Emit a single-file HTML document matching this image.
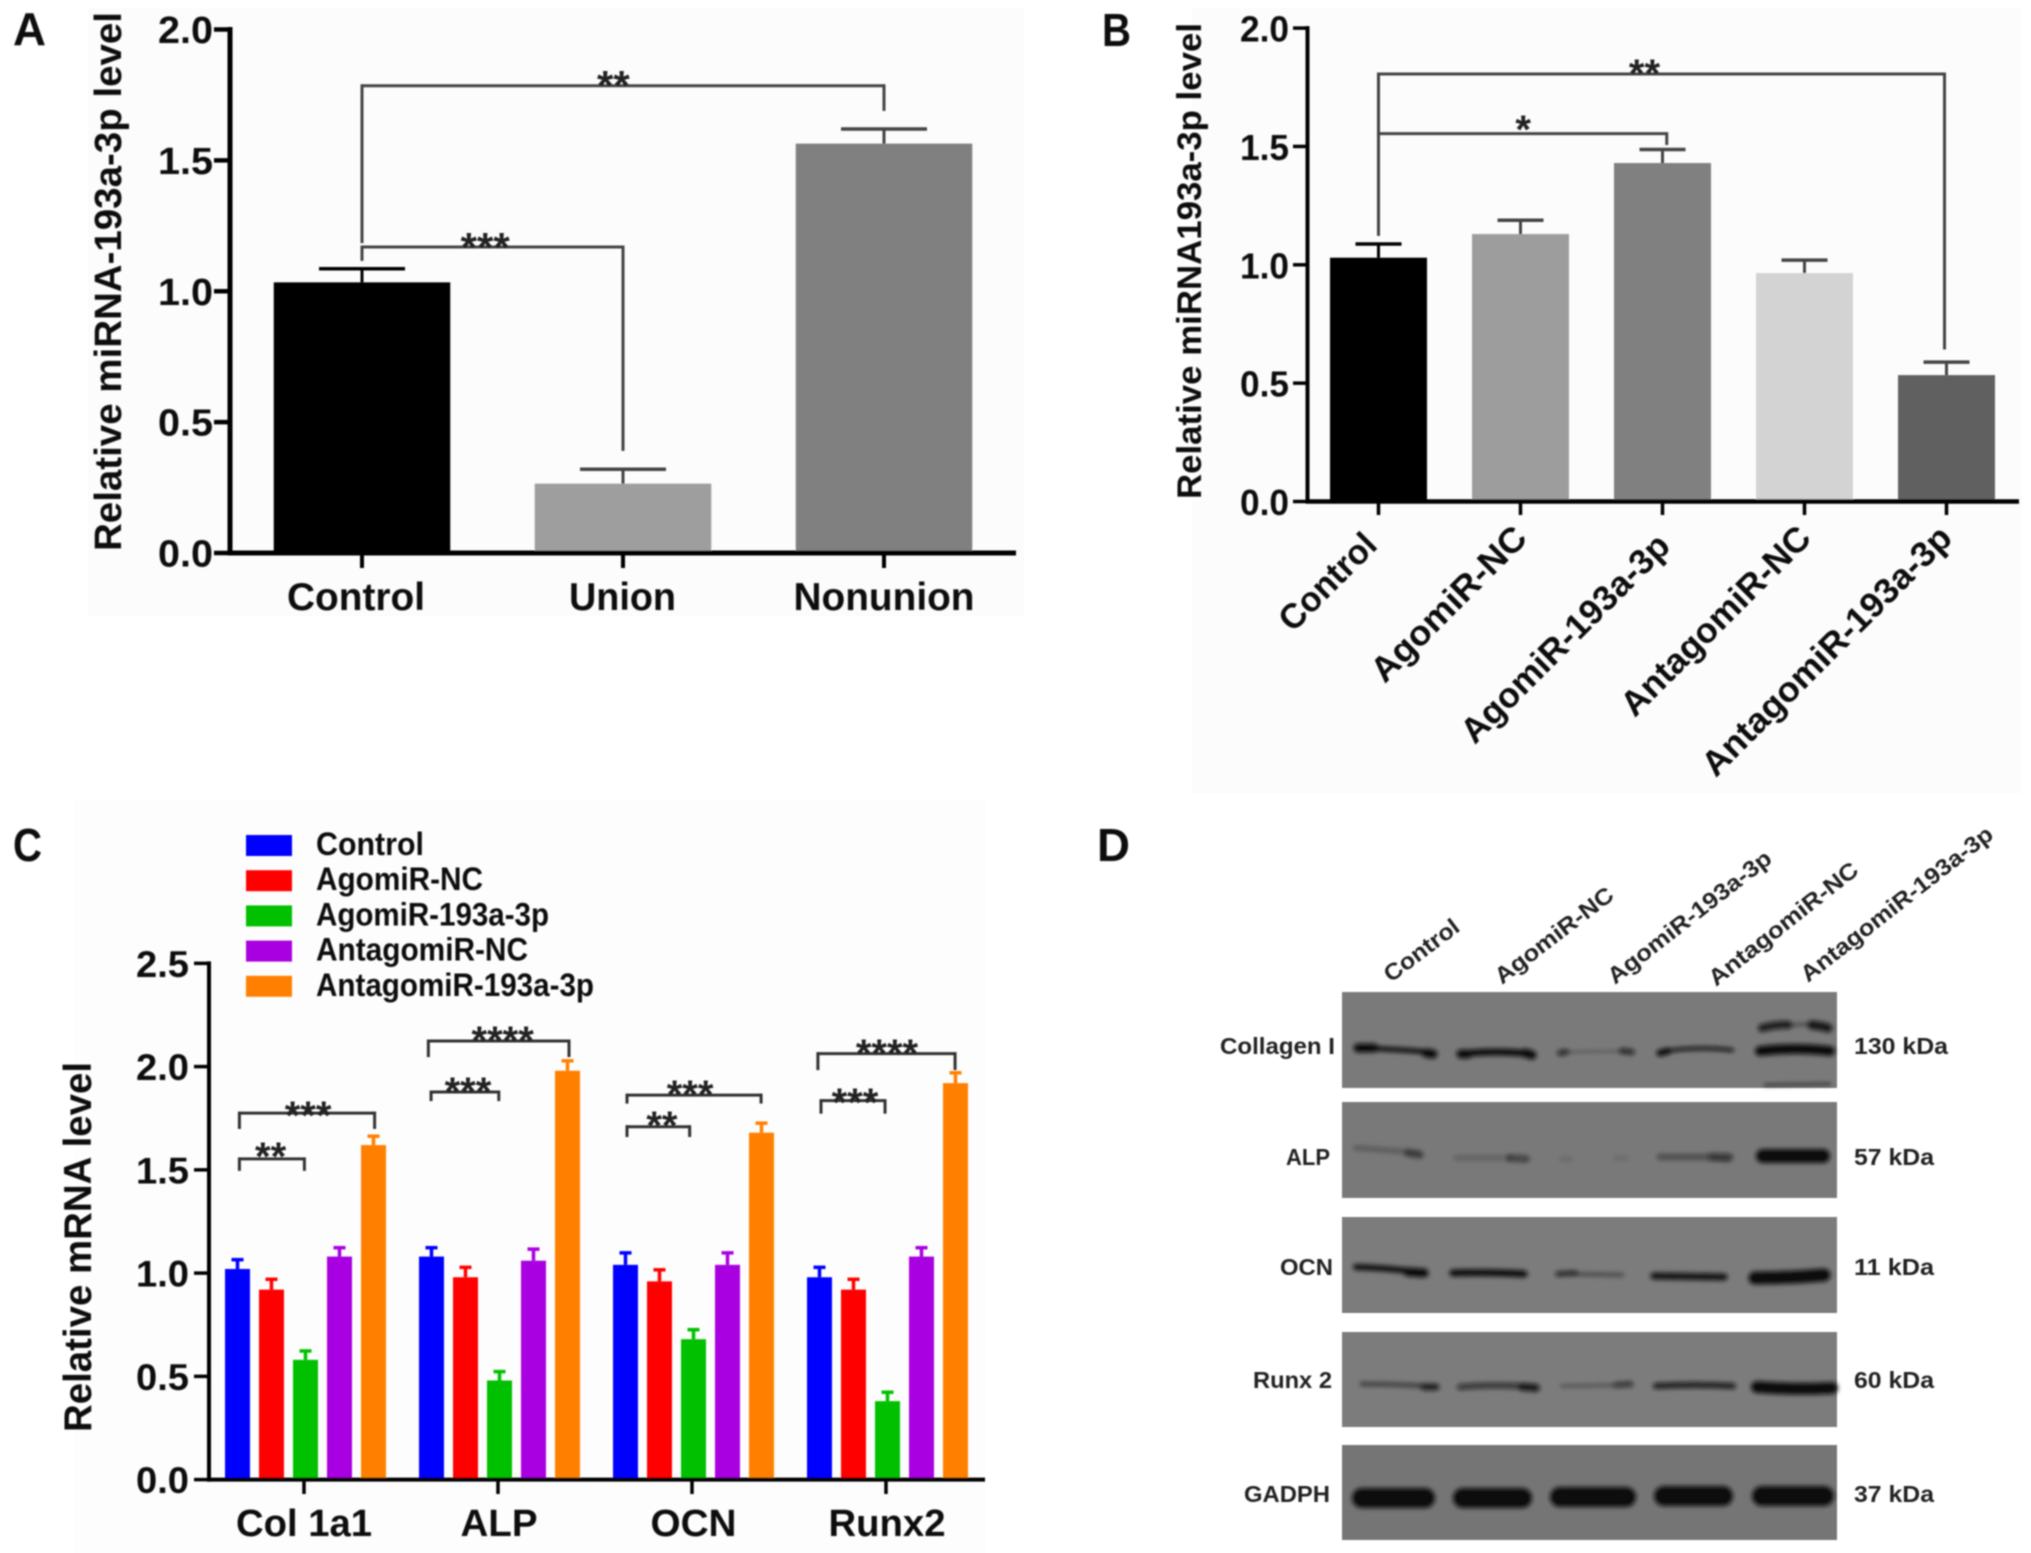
<!DOCTYPE html>
<html lang="en">
<head>
<meta charset="utf-8">
<title>miRNA-193a-3p expression figure</title>
<style>
html,body{margin:0;padding:0;background:#fff;}
body{width:2031px;height:1553px;overflow:hidden;}
svg{display:block;}
text{font-family:"Liberation Sans",sans-serif;font-weight:bold;fill:#111;}
.panel-letter{font-size:46px;fill:#0d0d0d;}
.blot-label{font-size:23px;fill:#222;}
.band{fill:none;stroke:#0c0c0c;stroke-linecap:round;stroke-linejoin:round;}
</style>
</head>
<body>
<svg id="figure" xmlns="http://www.w3.org/2000/svg" width="2031" height="1553" viewBox="0 0 2031 1553">
<defs>
<filter id="soft" x="-2%" y="-2%" width="104%" height="104%"><feGaussianBlur stdDeviation="0.7"/></filter>
<filter id="bandblur" filterUnits="userSpaceOnUse" x="1300" y="960" width="600" height="600"><feGaussianBlur stdDeviation="2"/></filter>
</defs>
<rect width="2031" height="1553" fill="#fff"/>
<rect x="88" y="8" width="936" height="608" fill="#fcfcfc"/>
<rect x="1192" y="8" width="830" height="785" fill="#fcfcfc"/>
<rect x="75" y="800" width="910" height="753" fill="#fdfdfd"/>
<g id="root" filter="url(#soft)">
  <text class="panel-letter" x="13" y="45" textLength="33" lengthAdjust="spacingAndGlyphs">A</text>
  <text class="panel-letter" x="1102" y="46" textLength="29" lengthAdjust="spacingAndGlyphs">B</text>
  <text class="panel-letter" x="13" y="861" textLength="29" lengthAdjust="spacingAndGlyphs">C</text>
  <text class="panel-letter" x="1097" y="861" textLength="33" lengthAdjust="spacingAndGlyphs">D</text>

  <text transform="translate(121,551) rotate(-90)" font-size="38" textLength="539" lengthAdjust="spacingAndGlyphs">Relative miRNA-193a-3p level</text>
  <text transform="translate(1201,499) rotate(-90)" font-size="34" textLength="476" lengthAdjust="spacingAndGlyphs">Relative miRNA193a-3p level</text>
  <text transform="translate(91,1432) rotate(-90)" font-size="39" textLength="370" lengthAdjust="spacingAndGlyphs">Relative mRNA level</text>

  <g id="panel-a"></g>
  <g id="panel-b"></g>
  <g id="panel-c"></g>

  <g id="panel-d">
    <rect x="1342" y="992" width="495" height="96" fill="#7a7a7a"/>
    <rect x="1342" y="1102" width="495" height="96" fill="#797979"/>
    <rect x="1342" y="1217" width="495" height="96" fill="#7b7b7b"/>
    <rect x="1342" y="1332" width="495" height="95" fill="#7c7c7c"/>
    <rect x="1342" y="1445" width="495" height="95" fill="#757575"/>

    <g filter="url(#bandblur)">
      <path class="band" stroke-width="5" d="M1358 1048 Q1395 1049 1430 1052"/>
      <path class="band" stroke-width="9" d="M1358 1048 L1374 1048 M1426 1053 L1433 1054"/>
      <path class="band" stroke-width="7" d="M1461 1054 Q1495 1050 1532 1054"/>
      <path class="band" stroke-width="9" d="M1461 1054 L1468 1054 M1525 1053 L1532 1055"/>
      <path class="band" stroke-width="2" opacity=".35" d="M1562 1052 L1630 1051"/>
      <path class="band" stroke-width="6" opacity=".7" d="M1560 1053 L1566 1052 M1622 1051 L1632 1052"/>
      <path class="band" stroke-width="4" opacity=".9" d="M1660 1052 Q1695 1046 1732 1050"/>
      <path class="band" stroke-width="7" d="M1660 1053 L1668 1051"/>
      <path class="band" stroke-width="10" d="M1760 1051 Q1795 1047 1830 1051"/>
      <path class="band" stroke-width="8" opacity=".85" d="M1762 1028 Q1780 1024 1788 1025"/>
      <path class="band" stroke-width="9" opacity=".9" d="M1812 1025 Q1822 1026 1828 1028"/>
      <path class="band" stroke-width="4" opacity=".35" d="M1788 1025 L1812 1024"/>
      <path class="band" stroke-width="3" opacity=".55" d="M1765 1085 L1830 1084"/>
    </g>
    <g filter="url(#bandblur)">
      <path class="band" stroke-width="6" opacity=".22" d="M1356 1148 Q1390 1150 1418 1153"/>
      <path class="band" stroke-width="8" opacity=".4" d="M1408 1153 L1420 1155"/>
      <path class="band" stroke-width="6" opacity=".17" d="M1456 1158 L1510 1158"/>
      <path class="band" stroke-width="8" opacity=".4" d="M1510 1158 L1526 1159"/>
      <path class="band" stroke-width="6" opacity=".1" d="M1562 1159 L1570 1159 M1616 1158 L1626 1158"/>
      <path class="band" stroke-width="7" opacity=".32" d="M1660 1157 L1730 1157"/>
      <path class="band" stroke-width="8" opacity=".5" d="M1712 1157 L1728 1158"/>
      <path class="band" stroke-width="14" d="M1763 1156 L1823 1156"/>
    </g>
    <g filter="url(#bandblur)">
      <path class="band" stroke-width="6" d="M1356 1267 Q1390 1268 1425 1273"/>
      <path class="band" stroke-width="9" d="M1408 1272 L1424 1273"/>
      <path class="band" stroke-width="7" d="M1453 1273 Q1490 1272 1524 1274"/>
      <path class="band" stroke-width="5" opacity=".8" d="M1558 1274 L1575 1273"/>
      <path class="band" stroke-width="4" opacity=".4" d="M1575 1274 L1622 1275"/>
      <path class="band" stroke-width="7" opacity=".95" d="M1654 1276 L1724 1277"/>
      <path class="band" stroke-width="13" d="M1755 1278 Q1790 1278 1824 1275"/>
    </g>
    <g filter="url(#bandblur)">
      <path class="band" stroke-width="5" opacity=".45" d="M1362 1384 Q1400 1384 1436 1387"/>
      <path class="band" stroke-width="7" opacity=".75" d="M1424 1387 L1436 1387"/>
      <path class="band" stroke-width="6" opacity=".65" d="M1460 1387 Q1495 1384 1535 1387"/>
      <path class="band" stroke-width="8" opacity=".75" d="M1522 1387 L1536 1388"/>
      <path class="band" stroke-width="4" opacity=".3" d="M1562 1386 L1632 1385"/>
      <path class="band" stroke-width="6" opacity=".5" d="M1616 1385 L1630 1384"/>
      <path class="band" stroke-width="6" opacity=".85" d="M1656 1386 Q1695 1384 1733 1386"/>
      <path class="band" stroke-width="12" d="M1757 1387 Q1795 1390 1832 1388"/>
    </g>
    <g filter="url(#bandblur)">
      <path class="band" stroke-width="20" d="M1362 1498 L1425 1498"/>
      <path class="band" stroke-width="20" d="M1463 1498 L1522 1498"/>
      <path class="band" stroke-width="20" d="M1560 1497 L1626 1497"/>
      <path class="band" stroke-width="20" d="M1664 1496 L1723 1496"/>
      <path class="band" stroke-width="20" d="M1762 1496 L1824 1496"/>
    </g>

    <text class="blot-label" transform="translate(1391,983) rotate(-37)" textLength="88" lengthAdjust="spacingAndGlyphs">Control</text>
    <text class="blot-label" transform="translate(1502,985) rotate(-37.5)" textLength="143" lengthAdjust="spacingAndGlyphs">AgomiR-NC</text>
    <text class="blot-label" transform="translate(1615,985) rotate(-38)" textLength="201" lengthAdjust="spacingAndGlyphs">AgomiR-193a-3p</text>
    <text class="blot-label" transform="translate(1716,987) rotate(-38.4)" textLength="184" lengthAdjust="spacingAndGlyphs">AntagomiR-NC</text>
    <text class="blot-label" transform="translate(1808,983) rotate(-38)" textLength="237" lengthAdjust="spacingAndGlyphs">AntagomiR-193a-3p</text>

    <text class="blot-label" x="1220" y="1054" textLength="115" lengthAdjust="spacingAndGlyphs">Collagen I</text>
    <text class="blot-label" x="1286" y="1165" textLength="44" lengthAdjust="spacingAndGlyphs">ALP</text>
    <text class="blot-label" x="1280" y="1275" textLength="53" lengthAdjust="spacingAndGlyphs">OCN</text>
    <text class="blot-label" x="1253" y="1388" textLength="79" lengthAdjust="spacingAndGlyphs">Runx 2</text>
    <text class="blot-label" x="1244" y="1502" textLength="86" lengthAdjust="spacingAndGlyphs">GADPH</text>

    <text class="blot-label" x="1854" y="1054" textLength="94" lengthAdjust="spacingAndGlyphs">130 kDa</text>
    <text class="blot-label" x="1854" y="1165" textLength="80" lengthAdjust="spacingAndGlyphs">57 kDa</text>
    <text class="blot-label" x="1854" y="1275" textLength="80" lengthAdjust="spacingAndGlyphs">11 kDa</text>
    <text class="blot-label" x="1854" y="1388" textLength="80" lengthAdjust="spacingAndGlyphs">60 kDa</text>
    <text class="blot-label" x="1854" y="1502" textLength="80" lengthAdjust="spacingAndGlyphs">37 kDa</text>
  </g>
</g>
</svg>
<script>
// Panel A data
var aCategories = ['Control', 'Union', 'Nonunion'];
var aValues = [1.034, 0.265, 1.564];
var aErrors = [0.052, 0.055, 0.056];
var aTicks = [0, 0.5, 1, 1.5, 2];
var aTickLabels = ['0.0', '0.5', '1.0', '1.5', '2.0'];
var aBarColors = ['#000000', '#9e9e9e', '#808080'];

// Panel B data
var bCategories = ['Control', 'AgomiR-NC', 'AgomiR-193a-3p', 'AntagomiR-NC', 'AntagomiR-193a-3p'];
var bValues = [1.03, 1.13, 1.43, 0.965, 0.534];
var bErrors = [0.058, 0.058, 0.057, 0.055, 0.055];
var bTicks = [0, 0.5, 1, 1.5, 2];
var bTickLabels = ['0.0', '0.5', '1.0', '1.5', '2.0'];
var bBarColors = ['#000000', '#9d9d9d', '#808080', '#d3d3d3', '#606060'];

// Panel C data
var cGroups = ['Col 1a1', 'ALP', 'OCN', 'Runx2'];
var cSeriesNames = ['Control', 'AgomiR-NC', 'AgomiR-193a-3p', 'AntagomiR-NC', 'AntagomiR-193a-3p'];
var cControl = [1.02, 1.08, 1.04, 0.98];
var cAgomirNc = [0.92, 0.98, 0.96, 0.92];
var cAgomir193 = [0.58, 0.48, 0.68, 0.38];
var cAntagomirNc = [1.08, 1.06, 1.04, 1.08];
var cAntagomir193 = [1.62, 1.98, 1.68, 1.92];
var cControlErr = [0.045, 0.043, 0.058, 0.048];
var cAgomirNcErr = [0.05, 0.048, 0.056, 0.05];
var cAgomir193Err = [0.043, 0.043, 0.046, 0.043];
var cAntagomirNcErr = [0.043, 0.056, 0.058, 0.043];
var cAntagomir193Err = [0.043, 0.048, 0.046, 0.05];
var cTicks = [0, 0.5, 1, 1.5, 2, 2.5];
var cTickLabels = ['0.0', '0.5', '1.0', '1.5', '2.0', '2.5'];
var cColors = ['#0000ff', '#ff0000', '#00c000', '#a800e0', '#ff8000'];

// Significance brackets: start category, end category, level, left drop, right drop, stars, star position, star level
var aBrackets = [
  [0, 2, 1.785, 1.184, 1.689, '**', 0.963, 1.819],
  [0, 1, 1.169, 1.116, 0.39, '***', 0.472, 1.2]
];
var bBrackets = [
  [0, 3.986, 1.806, 1.122, 0.642, '**', 1.873, 1.844],
  [0, 2.03, 1.554, 1.554, 1.506, '*', 1.019, 1.607]
];
var cBrackets = [
  [-0.333, 0.002, 1.553, 1.495, 1.495, '**', -0.172, 1.606],
  [-0.333, 0.364, 1.775, 1.698, 1.698, '***', 0.021, 1.804],
  [0.655, 1.004, 1.877, 1.833, 1.833, '***', 0.845, 1.921],
  [0.641, 1.366, 2.124, 2.046, 2.046, '****', 1.024, 2.167],
  [1.665, 1.988, 1.709, 1.659, 1.659, '**', 1.845, 1.756],
  [1.665, 2.356, 1.862, 1.821, 1.821, '***', 1.99, 1.906],
  [2.665, 2.995, 1.835, 1.772, 1.772, '***', 2.84, 1.867],
  [2.649, 3.356, 2.063, 1.983, 1.983, '****', 3.005, 2.105]
];

var NS = 'http://www.w3.org/2000/svg';

function line(parent, x1, y1, x2, y2, color, width, name) {
  var el = document.createElementNS(NS, 'line');
  el.setAttribute('x1', x1);
  el.setAttribute('y1', y1);
  el.setAttribute('x2', x2);
  el.setAttribute('y2', y2);
  el.setAttribute('stroke', color);
  el.setAttribute('stroke-width', width);
  
  
  parent.appendChild(el);
  return el;
}

function rect(parent, x, y, w, h, color, name) {
  var el = document.createElementNS(NS, 'rect');
  el.setAttribute('x', x);
  el.setAttribute('y', y);
  el.setAttribute('width', w);
  el.setAttribute('height', Math.max(0, h));
  el.setAttribute('fill', color);
  
  
  parent.appendChild(el);
  return el;
}

function label(parent, str, x, y, size, anchor, len, rot, name) {
  var el = document.createElementNS(NS, 'text');
  el.textContent = str;
  el.setAttribute('font-size', size);
  el.setAttribute('text-anchor', anchor);
  if (len) {
    el.setAttribute('textLength', len);
    el.setAttribute('lengthAdjust', 'spacingAndGlyphs');
  }
  if (rot) {
    el.setAttribute('transform', 'translate(' + x + ',' + y + ') rotate(' + rot + ')');
  } else {
    el.setAttribute('x', x);
    el.setAttribute('y', y);
  }
  
  
  parent.appendChild(el);
  return el;
}

function stars(parent, str, cx, cy, size) {
  var el = label(parent, str, cx, cy + size * 0.55, size, 'middle', 0, 0, 'significance-stars');
  el.style.fill = '#222';
  return el;
}

function drawYAxis(parent, axisX, tickLeft, scale, ticks, labels, topValue, labelRight, labelWidth, size, axisWidth, prefix) {
  line(parent, axisX, scale(topValue) - axisWidth / 2, axisX, scale(0) + axisWidth / 2, '#000', axisWidth, prefix + '-y-axis');
  ticks.forEach(function (t, i) {
    line(parent, tickLeft, scale(t), axisX, scale(t), '#000', axisWidth - 0.5, prefix + '-y-tick');
    label(parent, labels[i], labelRight, scale(t) + 13.5, size, 'end', labelWidth, 0, prefix + '-y-tick-label');
  });
}

function drawBrackets(parent, brackets, xScale, yScale, stroke, size) {
  brackets.forEach(function (b) {
    var x0 = xScale(b[0]), x1 = xScale(b[1]), y = yScale(b[2]);
    line(parent, x0, y, x1, y, stroke, 3, 'significance-bracket');
    line(parent, x0, y - 1.5, x0, yScale(b[3]), stroke, 3, 'significance-bracket-left');
    line(parent, x1, y - 1.5, x1, yScale(b[4]), stroke, 3, 'significance-bracket-right');
    stars(parent, b[5], xScale(b[6]), yScale(b[7]), size);
  });
}

// Panel A
(function () {
  var g = document.getElementById('panel-a');
  var yA = function (v) { return 553 - 261.75 * v; };
  var xA = function (i) { return 362 + 261 * i; };
  var barW = 176.5;
  aCategories.forEach(function (c, i) {
    rect(g, xA(i) - barW / 2, yA(aValues[i]), barW, yA(0) - yA(aValues[i]), aBarColors[i], 'bar-' + c.toLowerCase());
    var top = yA(aValues[i] + aErrors[i]);
    var ec = i === 0 ? '#000' : '#444';
    line(g, xA(i), top, xA(i), yA(aValues[i]), ec, 3, 'error-stem');
    line(g, xA(i) - 43, top, xA(i) + 43, top, ec, 3.5, 'error-cap');
    line(g, xA(i), yA(0), xA(i), 568, '#000', 4, 'x-tick');
  });
  drawYAxis(g, 230, 214, yA, aTicks, aTickLabels, 2, 213, 55, 38, 5, 'panel-a');
  line(g, 228, yA(0), 1016, yA(0), '#000', 5, 'panel-a-x-axis');
  var widthsA = [138, 107, 181];
  aCategories.forEach(function (c, i) {
    label(g, c, [356, 622.5, 884][i], 610, 39, 'middle', widthsA[i], 0, 'category-label-' + c.toLowerCase());
  });
  drawBrackets(g, aBrackets, xA, yA, '#444', 42);
})();

// Panel B
(function () {
  var g = document.getElementById('panel-b');
  var yB = function (v) { return 501.5 - 236.7 * v; };
  var xB = function (i) { return 1378.5 + 142 * i; };
  var barW = 97;
  var ends = [[1379, 547], [1529, 540], [1672, 548], [1813, 540], [1954, 540]];
  var lens = [122, 204, 279, 252, 337];
  bCategories.forEach(function (c, i) {
    rect(g, xB(i) - barW / 2, yB(bValues[i]), barW, yB(0) - yB(bValues[i]), bBarColors[i], 'bar-' + c.toLowerCase());
    var top = yB(bValues[i] + bErrors[i]);
    var ec = i === 0 ? '#000' : '#444';
    line(g, xB(i), top, xB(i), yB(bValues[i]), ec, 3, 'error-stem');
    line(g, xB(i) - 23, top, xB(i) + 23, top, ec, 3.5, 'error-cap');
    line(g, xB(i), yB(0), xB(i), 515, '#000', 3.5, 'x-tick');
    var rad = 45 * Math.PI / 180;
    var sx = ends[i][0] - lens[i] * Math.cos(rad), sy = ends[i][1] + lens[i] * Math.sin(rad);
    label(g, c, sx, sy, 35, 'start', lens[i], -45, 'category-label-' + c.toLowerCase());
  });
  drawYAxis(g, 1307.5, 1293, yB, bTicks, bTickLabels, 2, 1289, 49, 36, 4, 'panel-b');
  line(g, 1305.5, yB(0), 2019, yB(0), '#000', 4.5, 'panel-b-x-axis');
  drawBrackets(g, bBrackets, xB, yB, '#444', 40);
})();

// Panel C
(function () {
  var g = document.getElementById('panel-c');
  var yC = function (v) { return 1479.6 - 206.5 * v; };
  var xC = function (i) { return 304 + 194 * i; };
  var barW = 25, step = 34;
  var series = [cControl, cAgomirNc, cAgomir193, cAntagomirNc, cAntagomir193];
  var errs = [cControlErr, cAgomirNcErr, cAgomir193Err, cAntagomirNcErr, cAntagomir193Err];
  cGroups.forEach(function (grp, gi) {
    series.forEach(function (vals, si) {
      var left = xC(gi) - 79 + si * step;
      var mid = left + barW / 2;
      var top = yC(vals[gi] + errs[si][gi]);
      rect(g, left, yC(vals[gi]), barW, yC(0) - yC(vals[gi]), cColors[si], 'bar-' + grp.toLowerCase().replace(' ', '') + '-' + cSeriesNames[si].toLowerCase());
      line(g, mid, top, mid, yC(vals[gi]), cColors[si], 3.5, 'error-stem');
      line(g, mid - 6, top, mid + 6, top, cColors[si], 3.5, 'error-cap');
    });
    line(g, xC(gi), yC(0), xC(gi), 1494, '#000', 3.5, 'x-tick');
    label(g, grp, [304, 499, 693.5, 887][gi], 1536, 38, 'middle', [136, 77, 86, 117][gi], 0, 'group-label-' + grp.toLowerCase().replace(' ', ''));
  });
  drawYAxis(g, 209, 194, yC, cTicks, cTickLabels, 2.5, 189, 53, 37, 4, 'panel-c');
  line(g, 207, yC(0), 985, yC(0), '#000', 4, 'panel-c-x-axis');
  drawBrackets(g, cBrackets, xC, yC, '#333', 40);
  var legendWidths = [108, 167, 233, 212, 278];
  cSeriesNames.forEach(function (n, i) {
    rect(g, 246, 835 + i * 35.2, 46, 21, cColors[i], 'legend-swatch-' + n.toLowerCase());
    label(g, n, 316, 855 + i * 35.2, 32, 'start', legendWidths[i], 0, 'legend-entry-' + n.toLowerCase());
  });
})();
</script>
</body>
</html>
